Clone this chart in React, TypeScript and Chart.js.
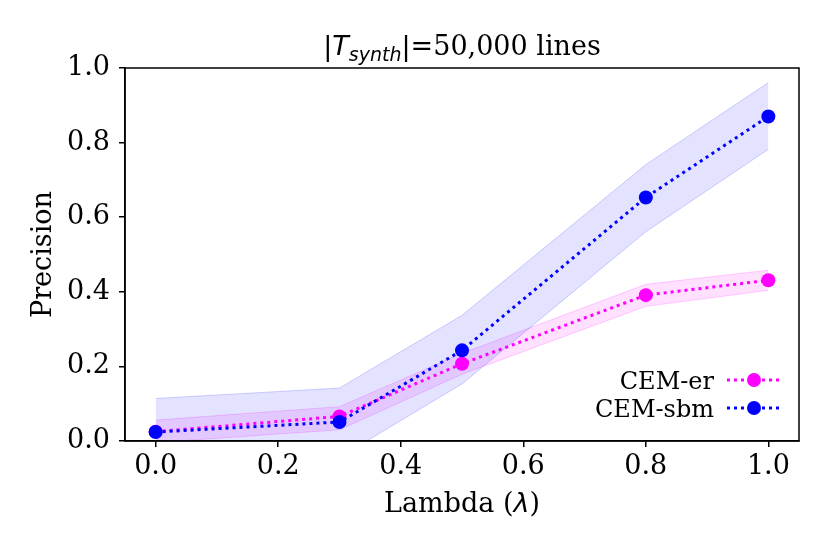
import React, { useEffect, useRef } from "react";
import { Chart, registerables } from "chart.js";
Chart.register(...registerables);

const lambdas = [0.0, 0.3, 0.5, 0.8, 1.0];
const erMean = [0.025, 0.066, 0.207, 0.391, 0.431];
const erUpper = [0.056, 0.092, 0.235, 0.42, 0.458];
const erLower = [-0.004, 0.03, 0.179, 0.361, 0.404];
const sbmMean = [0.024, 0.051, 0.243, 0.653, 0.87];
const sbmUpper = [0.114, 0.142, 0.337, 0.741, 0.961];
const sbmLower = [-0.066, -0.044, 0.153, 0.561, 0.782];
const xTicks = [0, 0.2, 0.4, 0.6, 0.8, 1.0];
const yTicks = [0, 0.2, 0.4, 0.6, 0.8, 1.0];
const seriesNames = ["CEM-er", "CEM-sbm"];
const seriesColors = ["#ff00ff", "#0000ff"];
const titleParts = { bar: "|", T: "T", sub: "synth", rest: "=50,000 lines" };
const xLabelParts = { pre: "Lambda (", sym: "λ", post: ")" };
const yLabel = "Precision";

const SERIF = "'DejaVu Serif', serif";
const SANS = "'DejaVu Sans', sans-serif";

function pts(ys: number[]) {
  return lambdas.map((x, i) => ({ x, y: ys[i] }));
}

const textPlugin = {
  id: "textPlugin",
  afterDraw(chart: any) {
    const { ctx, chartArea } = chart;
    const cx = (chartArea.left + chartArea.right) / 2;
    ctx.save();
    // frame
    ctx.strokeStyle = "#000";
    ctx.lineWidth = 1.5;
    ctx.strokeRect(chartArea.left, chartArea.top, chartArea.right - chartArea.left, chartArea.bottom - chartArea.top);

    // title with math parts
    ctx.fillStyle = "#000";
    ctx.textBaseline = "alphabetic";
    const fBar = `27px ${SANS}`;
    const fT = `italic 27px ${SANS}`;
    const fSub = `italic 19px ${SANS}`;
    const fRest = `27px ${SERIF}`;
    const parts: [string, string, number][] = [
      [titleParts.bar, fBar, 0],
      [titleParts.T, fT, 0],
      [titleParts.sub, fSub, 6],
      [titleParts.bar, fBar, 0],
      [titleParts.rest, fRest, 0],
    ];
    let total = 0;
    const widths = parts.map(([t, f]) => {
      ctx.font = f;
      const w = ctx.measureText(t).width;
      total += w;
      return w;
    });
    let x = cx - total / 2;
    const by = 55;
    parts.forEach(([t, f, dy], i) => {
      ctx.font = f;
      ctx.textAlign = "left";
      ctx.fillText(t, x, by + dy);
      x += widths[i];
    });

    // x label
    const xparts: [string, string][] = [
      [xLabelParts.pre, `27px ${SERIF}`],
      [xLabelParts.sym, `italic 27px ${SANS}`],
      [xLabelParts.post, `27px ${SERIF}`],
    ];
    let tw = 0;
    const xw = xparts.map(([t, f]) => {
      ctx.font = f;
      const w = ctx.measureText(t).width;
      tw += w;
      return w;
    });
    x = cx - tw / 2;
    xparts.forEach(([t, f], i) => {
      ctx.font = f;
      ctx.fillText(t, x, 512);
      x += xw[i];
    });

    // legend
    const rows = [380, 408];
    seriesNames.forEach((name, i) => {
      const y = rows[i];
      ctx.font = `24px ${SERIF}`;
      ctx.textAlign = "right";
      ctx.fillStyle = "#000";
      ctx.fillText(name, 714, y + 8.5);
      ctx.strokeStyle = seriesColors[i];
      ctx.lineWidth = 3;
      ctx.setLineDash([3, 4]);
      ctx.beginPath();
      ctx.moveTo(727, y);
      ctx.lineTo(779, y);
      ctx.stroke();
      ctx.setLineDash([]);
      ctx.fillStyle = seriesColors[i];
      ctx.beginPath();
      ctx.arc(754, y, 7, 0, Math.PI * 2);
      ctx.fill();
    });
    ctx.restore();
  },
};

export default function App() {
  const ref = useRef<HTMLCanvasElement>(null);
  useEffect(() => {
    if (!ref.current) return;
    const bandStyle = (c: string, a: number) => ({
      borderColor: `rgba(${c},${a * 1.6})`,
      backgroundColor: `rgba(${c},${a})`,
      borderWidth: 1,
      pointRadius: 0,
      showLine: true,
    });
    const chart = new Chart(ref.current, {
      type: "scatter",
      data: {
        datasets: [
          { label: "er-up", data: pts(erUpper), ...bandStyle("255,0,255", 0.12), fill: false, order: 5 } as any,
          { label: "er-lo", data: pts(erLower), ...bandStyle("255,0,255", 0.12), fill: "-1", order: 4 } as any,
          { label: "sbm-up", data: pts(sbmUpper), ...bandStyle("0,0,255", 0.11), fill: false, order: 3 } as any,
          { label: "sbm-lo", data: pts(sbmLower), ...bandStyle("0,0,255", 0.11), fill: "-1", order: 2 } as any,
          {
            label: seriesNames[0], data: pts(erMean), showLine: true, borderColor: seriesColors[0],
            backgroundColor: seriesColors[0], borderWidth: 3, borderDash: [3, 4], pointRadius: 7,
            pointBorderWidth: 0, fill: false, order: 1,
          } as any,
          {
            label: seriesNames[1], data: pts(sbmMean), showLine: true, borderColor: seriesColors[1],
            backgroundColor: seriesColors[1], borderWidth: 3, borderDash: [3, 4], pointRadius: 7,
            pointBorderWidth: 0, fill: false, order: 0,
          } as any,
        ],
      },
      options: {
        animation: false,
        responsive: false,
        layout: { padding: { top: 68, right: 31, left: 0, bottom: 0 } },
        plugins: { legend: { display: false }, tooltip: { enabled: false }, title: { display: false } },
        scales: {
          x: {
            type: "linear",
            min: -0.05,
            max: 1.05,
            afterBuildTicks: (s: any) => { s.ticks = xTicks.map((v) => ({ value: v })); },
            afterFit: (s: any) => { s.height = 113; },
            ticks: {
              callback: (v: any) => Number(v).toFixed(1),
              font: { family: SERIF, size: 27 },
              color: "#000",
              padding: 4,
              maxRotation: 0,
            },
            grid: { drawOnChartArea: false, drawTicks: true, tickLength: 6, color: "#000", lineWidth: 1.5 },
            border: { display: true, color: "#000", width: 1.5 },
          },
          y: {
            type: "linear",
            min: 0,
            max: 1,
            afterBuildTicks: (s: any) => { s.ticks = yTicks.map((v) => ({ value: v })); },
            afterFit: (s: any) => { s.width = 125; },
            ticks: {
              callback: (v: any) => Number(v).toFixed(1),
              font: { family: SERIF, size: 27 },
              color: "#000",
              padding: 9,
            },
            title: {
              display: true,
              text: yLabel,
              font: { family: SERIF, size: 27 },
              color: "#000",
              padding: { top: 28, bottom: 0 },
            },
            grid: { drawOnChartArea: false, drawTicks: true, tickLength: 6, color: "#000", lineWidth: 1.5 },
            border: { display: true, color: "#000", width: 1.5 },
          },
        },
      },
      plugins: [textPlugin],
    } as any);
    return () => chart.destroy();
  }, []);
  return (
    <canvas
      ref={ref}
      width={830}
      height={554}
      style={{ position: "absolute", left: 0, top: 0, width: 830, height: 554, background: "#fff" }}
    />
  );
}
